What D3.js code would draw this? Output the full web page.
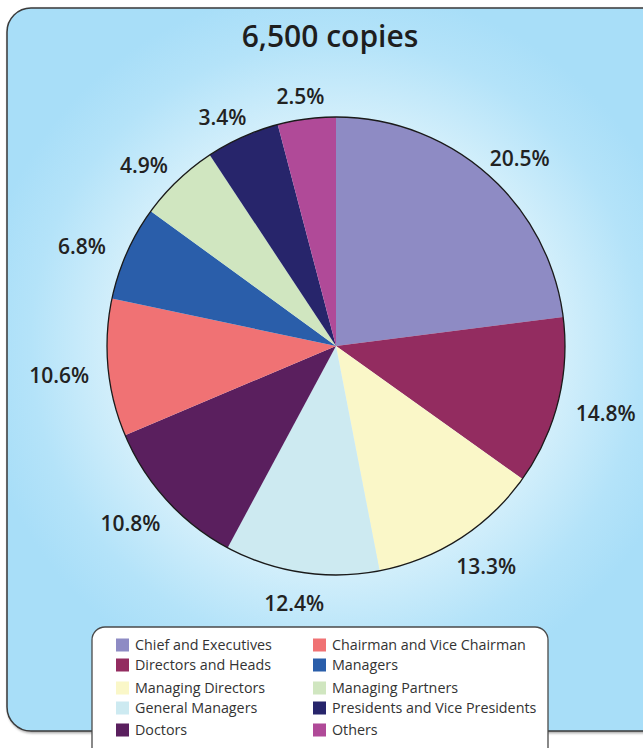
<!DOCTYPE html>
<html><head><meta charset="utf-8">
<script src="https://cdn.jsdelivr.net/npm/d3@7"></script>
<style>html,body{margin:0;padding:0;background:#fff;}svg{display:block;}</style>
</head><body>
<svg id="chart" width="643" height="748"></svg>
<script>
const title = "6,500 copies";
const categories = ["Chief and Executives","Directors and Heads","Managing Directors","General Managers","Doctors","Chairman and Vice Chairman","Managers","Managing Partners","Presidents and Vice Presidents","Others"];
const percentLabels = ["20.5%","14.8%","13.3%","12.4%","10.8%","10.6%","6.8%","4.9%","3.4%","2.5%"];
// slice shares as drawn in the picture (%)
const sliceValues = [23.0,11.9,12.1,10.9,10.8,9.7,6.7,5.7,5.2,4.1];
const colors = ["#8E8BC4","#932C60","#FAF7C8","#CDEAF1","#5A1F5E","#F07274","#2A5EAA","#D0E6C0","#27256B","#B04A98"];
const legendOrder = [[0,5],[1,6],[2,7],[3,8],[4,9]];

const svg = d3.select("#chart");
const cx = 336, cy = 346, R = 229;

const defs = svg.append("defs");
const rg = defs.append("radialGradient").attr("id","bg")
  .attr("gradientUnits","userSpaceOnUse").attr("cx",cx).attr("cy",cy).attr("r",360);
rg.append("stop").attr("offset","0%").attr("stop-color","#F0FAFE");
rg.append("stop").attr("offset","60%").attr("stop-color","#D6F0FB");
rg.append("stop").attr("offset","85%").attr("stop-color","#B4E3F9");
rg.append("stop").attr("offset","100%").attr("stop-color","#A8DEF8");
const sh = defs.append("filter").attr("id","sh").attr("x","-5%").attr("y","-5%").attr("width","110%").attr("height","110%");
sh.append("feDropShadow").attr("dx",1).attr("dy",1.5).attr("stdDeviation",1).attr("flood-color","#000").attr("flood-opacity",0.35);

// panel
svg.append("rect").attr("x",7).attr("y",8).attr("width",660).attr("height",723)
  .attr("rx",24).attr("ry",24).attr("fill","url(#bg)")
  .attr("stroke","#3a3a3a").attr("stroke-width",1.5).attr("filter","url(#sh)");

svg.append("text").attr("x",330).attr("y",47).attr("text-anchor","middle")
  .attr("font-family","'Open Sans', sans-serif").attr("font-weight",600)
  .attr("font-size",30).attr("fill","#1e1e1e").text(title);

const pie = d3.pie().sort(null).value(d => d);
const arcs = pie(sliceValues);
const arc = d3.arc().innerRadius(0).outerRadius(R);
const g = svg.append("g").attr("transform",`translate(${cx},${cy})`);
g.selectAll("path.slice").data(arcs).join("path").attr("class","slice")
  .attr("d",arc).attr("fill",(d,i)=>colors[i]);
g.append("circle").attr("r",R).attr("fill","none").attr("stroke","#1a1a1a").attr("stroke-width",1.3);

const lrx = 278, lry = 256, loff = 5;
g.selectAll("text.pct").data(arcs).join("text").attr("class","pct")
  .attr("x",d=>lrx*Math.sin((d.startAngle+d.endAngle)/2))
  .attr("y",d=>loff - lry*Math.cos((d.startAngle+d.endAngle)/2))
  .attr("dy","0.35em").attr("text-anchor","middle")
  .attr("font-family","'Open Sans', sans-serif").attr("font-weight",600)
  .attr("font-size",21).attr("fill","#222")
  .text((d,i)=>percentLabels[i]);

// legend
svg.append("rect").attr("x",92).attr("y",627).attr("width",456).attr("height",140)
  .attr("rx",13).attr("ry",13).attr("fill","#fff").attr("stroke","#4a4a4a").attr("stroke-width",1.3);
const rowsY = [645,665,688,708,730];
const colX = [116,313];
const lg = svg.append("g");
legendOrder.forEach((pair,r)=>{
  pair.forEach((idx,c)=>{
    lg.append("rect").attr("x",colX[c]).attr("y",rowsY[r]-6.5).attr("width",13).attr("height",13).attr("fill",colors[idx]);
    lg.append("text").attr("x",colX[c]+19).attr("y",rowsY[r]).attr("dy","0.35em")
      .attr("font-family","'Open Sans', sans-serif").attr("font-size",14.3).attr("fill","#333")
      .text(categories[idx]);
  });
});
</script>
</body></html>
